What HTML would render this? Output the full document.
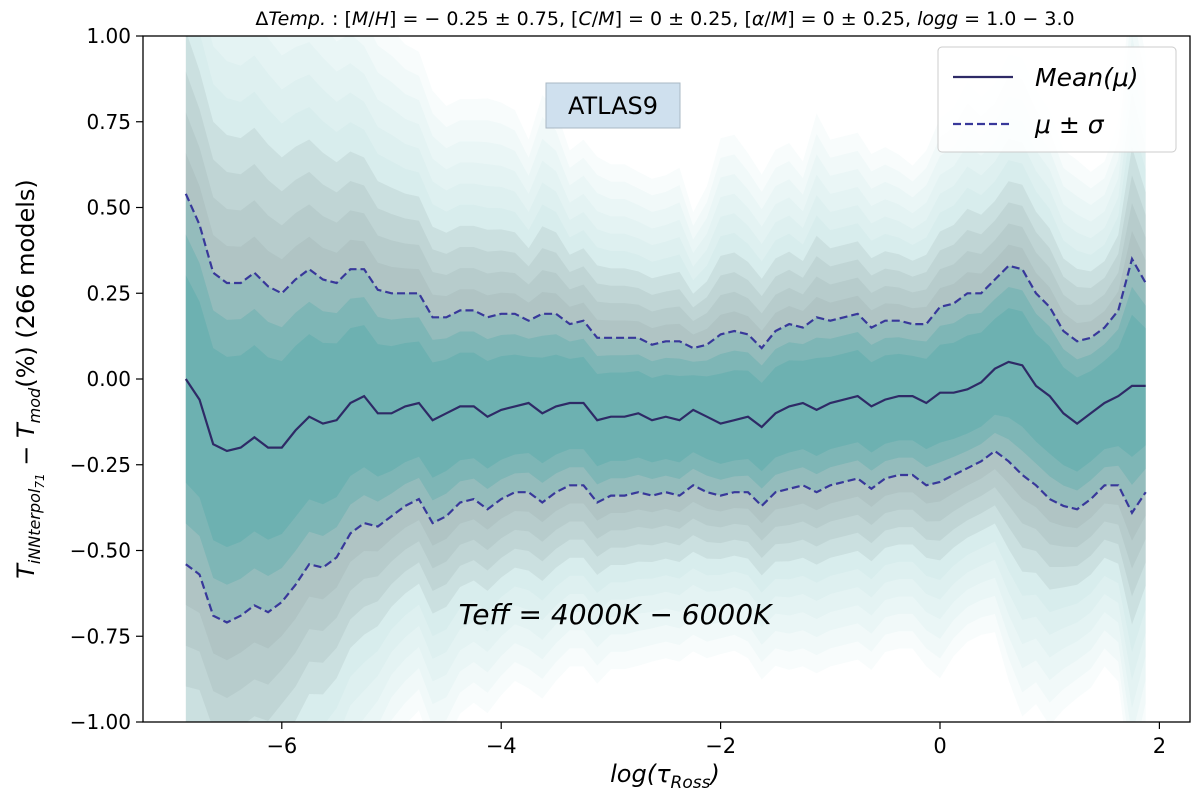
<!DOCTYPE html>
<html><head><meta charset="utf-8"><style>
html,body{margin:0;background:#fff;overflow:hidden;width:1200px;height:801px;}
svg{display:block;}
svg text{font-family:"DejaVu Sans","Liberation Sans",sans-serif;}
</style></head><body>
<svg id="chart" width="1200" height="801" xmlns="http://www.w3.org/2000/svg">
<defs><clipPath id="clip"><rect x="143" y="36" width="1047" height="686"/></clipPath></defs>
<g id="bands" clip-path="url(#clip)"></g>
<g id="lines" clip-path="url(#clip)"></g>
<rect x="143" y="36" width="1047" height="686" fill="none" stroke="#000" stroke-width="1.3"/>
<g id="xticks"></g>
<g id="yticks"></g>
<text x="665" y="25" text-anchor="middle" font-size="19">Δ<tspan font-style="italic">Temp.</tspan> : [<tspan font-style="italic">M</tspan>/<tspan font-style="italic">H</tspan>] = − 0.25 ± 0.75, [<tspan font-style="italic">C</tspan>/<tspan font-style="italic">M</tspan>] = 0 ± 0.25, [<tspan font-style="italic">α</tspan>/<tspan font-style="italic">M</tspan>] = 0 ± 0.25, <tspan font-style="italic">logg</tspan> = 1.0 − 3.0</text>
<text x="665" y="782" text-anchor="middle" font-size="24" font-style="italic">log(τ<tspan font-size="17" dy="6">Ross</tspan><tspan dy="-6">)</tspan></text>
<text transform="translate(34,379) rotate(-90)" text-anchor="middle" font-size="24"><tspan font-style="italic">T</tspan><tspan font-style="italic" font-size="16" dy="6">iNNterpol</tspan><tspan font-style="italic" font-size="12" dy="4">71</tspan><tspan dy="-10"> − </tspan><tspan font-style="italic">T</tspan><tspan font-style="italic" font-size="16" dy="6">mod</tspan><tspan dy="-6">(%) (266 models)</tspan></text>
<rect x="546" y="83" width="134" height="45" fill="#cfe0ee" stroke="#a9b8c4" stroke-width="1"/>
<text x="613" y="114" text-anchor="middle" font-size="24">ATLAS9</text>
<text x="615" y="624" text-anchor="middle" font-size="28" font-style="italic">Teff = 4000K − 6000K</text>
<g>
<rect x="938" y="47" width="238" height="105" rx="4" fill="#fff" fill-opacity="0.85" stroke="#ccc"/>
<line x1="953" y1="77" x2="1013" y2="77" stroke="#2e2a66" stroke-width="2.2"/>
<text x="1035" y="86" font-size="25" font-style="italic">Mean(μ)</text>
<line x1="953" y1="124" x2="1013" y2="124" stroke="#38389a" stroke-width="2.2" stroke-dasharray="8,4"/>
<text x="1035" y="133" font-size="25" font-style="italic">μ ± σ</text>
</g>
</svg>
<script>
const xStart = -6.875, xStep = 0.125;
const meanVals = [0.00,-0.06,-0.19,-0.21,-0.20,-0.17,-0.20,-0.20,-0.15,-0.11,-0.13,-0.12,-0.07,-0.05,-0.10,-0.10,-0.08,-0.07,-0.12,-0.10,-0.08,-0.08,-0.11,-0.09,-0.08,-0.07,-0.10,-0.08,-0.07,-0.07,-0.12,-0.11,-0.11,-0.10,-0.12,-0.11,-0.12,-0.09,-0.11,-0.13,-0.12,-0.11,-0.14,-0.10,-0.08,-0.07,-0.09,-0.07,-0.06,-0.05,-0.08,-0.06,-0.05,-0.05,-0.07,-0.04,-0.04,-0.03,-0.01,0.03,0.05,0.04,-0.02,-0.05,-0.10,-0.13,-0.10,-0.07,-0.05,-0.02,-0.02];
const upperVals = [0.54,0.45,0.31,0.28,0.28,0.31,0.27,0.25,0.29,0.32,0.29,0.28,0.32,0.32,0.26,0.25,0.25,0.25,0.18,0.18,0.20,0.20,0.18,0.19,0.19,0.17,0.19,0.19,0.16,0.17,0.12,0.12,0.12,0.12,0.10,0.11,0.11,0.09,0.10,0.13,0.14,0.13,0.09,0.14,0.16,0.15,0.18,0.17,0.18,0.19,0.15,0.17,0.17,0.16,0.16,0.21,0.22,0.25,0.25,0.29,0.33,0.32,0.25,0.21,0.14,0.11,0.12,0.15,0.20,0.35,0.28];
const lowerVals = [-0.54,-0.57,-0.69,-0.71,-0.69,-0.66,-0.68,-0.65,-0.60,-0.54,-0.55,-0.52,-0.45,-0.42,-0.43,-0.40,-0.37,-0.35,-0.42,-0.40,-0.36,-0.35,-0.38,-0.35,-0.33,-0.33,-0.36,-0.33,-0.31,-0.31,-0.36,-0.34,-0.34,-0.33,-0.34,-0.33,-0.34,-0.31,-0.33,-0.34,-0.33,-0.33,-0.37,-0.33,-0.32,-0.31,-0.33,-0.31,-0.30,-0.29,-0.32,-0.29,-0.28,-0.28,-0.31,-0.30,-0.28,-0.26,-0.24,-0.21,-0.24,-0.28,-0.31,-0.35,-0.37,-0.38,-0.35,-0.31,-0.31,-0.39,-0.33];
const xTicks = [-6,-4,-2,0,2];
const yTicks = [1.00,0.75,0.50,0.25,0.00,-0.25,-0.50,-0.75,-1.00];

const NS = "http://www.w3.org/2000/svg";
function xS(v){ return 940 + v*109.7; }
function yS(v){ return 379 - v*343; }
function mk(tag, attrs, parent){ const e=document.createElementNS(NS,tag); for(const k in attrs) e.setAttribute(k,attrs[k]); parent.appendChild(e); return e; }
const xs = meanVals.map((_,i)=>xStart+i*xStep);

const bands = document.getElementById('bands');
const layers = [];
for (let j=0;j<13;j++){
  const k = 3.2 - j*0.22;
  let c;
  if (k > 2.0) c = 'rgba(130,200,200,0.06)';
  else if (k > 1.0) c = 'rgba(140,160,160,0.17)';
  else c = 'rgba(60,165,165,0.24)';
  layers.push([k,c]);
}
layers.forEach(([k,c])=>{
  let top = xs.map((x,i)=>xS(x)+','+yS(meanVals[i]+k*(upperVals[i]-meanVals[i])));
  let bot = xs.map((x,i)=>xS(x)+','+yS(meanVals[i]-k*(meanVals[i]-lowerVals[i]))).reverse();
  const p = mk('polygon',{points:top.concat(bot).join(' '),fill:c},bands);
  
  
});

const lines = document.getElementById('lines');
function path(vals, attrs, name){
  const d = vals.map((v,i)=>(i?'L':'M')+xS(xs[i]).toFixed(1)+','+yS(v).toFixed(1)).join(' ');
  const p = mk('path',Object.assign({d:d,fill:'none'},attrs),lines);
  
  
}
path(upperVals,{stroke:'#38389a','stroke-width':2.2,'stroke-dasharray':'8,4'},'upper-sigma-line');
path(lowerVals,{stroke:'#38389a','stroke-width':2.2,'stroke-dasharray':'8,4'},'lower-sigma-line');
path(meanVals,{stroke:'#2e2a66','stroke-width':2.2},'mean-line');

const xt = document.getElementById('xticks');
xTicks.forEach(v=>{
  const l = mk('line',{x1:xS(v),x2:xS(v),y1:722,y2:729,stroke:'#000','stroke-width':1.2},xt);
  
  
  const t = mk('text',{x:xS(v),y:753,'text-anchor':'middle','font-size':21},xt);
  t.textContent = v<0 ? '−'+Math.abs(v) : String(v);
  
  
});
const yt = document.getElementById('yticks');
yTicks.forEach(v=>{
  const l = mk('line',{x1:136,x2:143,y1:yS(v),y2:yS(v),stroke:'#000','stroke-width':1.2},yt);
  
  
  const t = mk('text',{x:131,y:yS(v)+7,'text-anchor':'end','font-size':20},yt);
  t.textContent = (v<0?'−':'')+Math.abs(v).toFixed(2);
  
  
});
</script>
</body></html>
